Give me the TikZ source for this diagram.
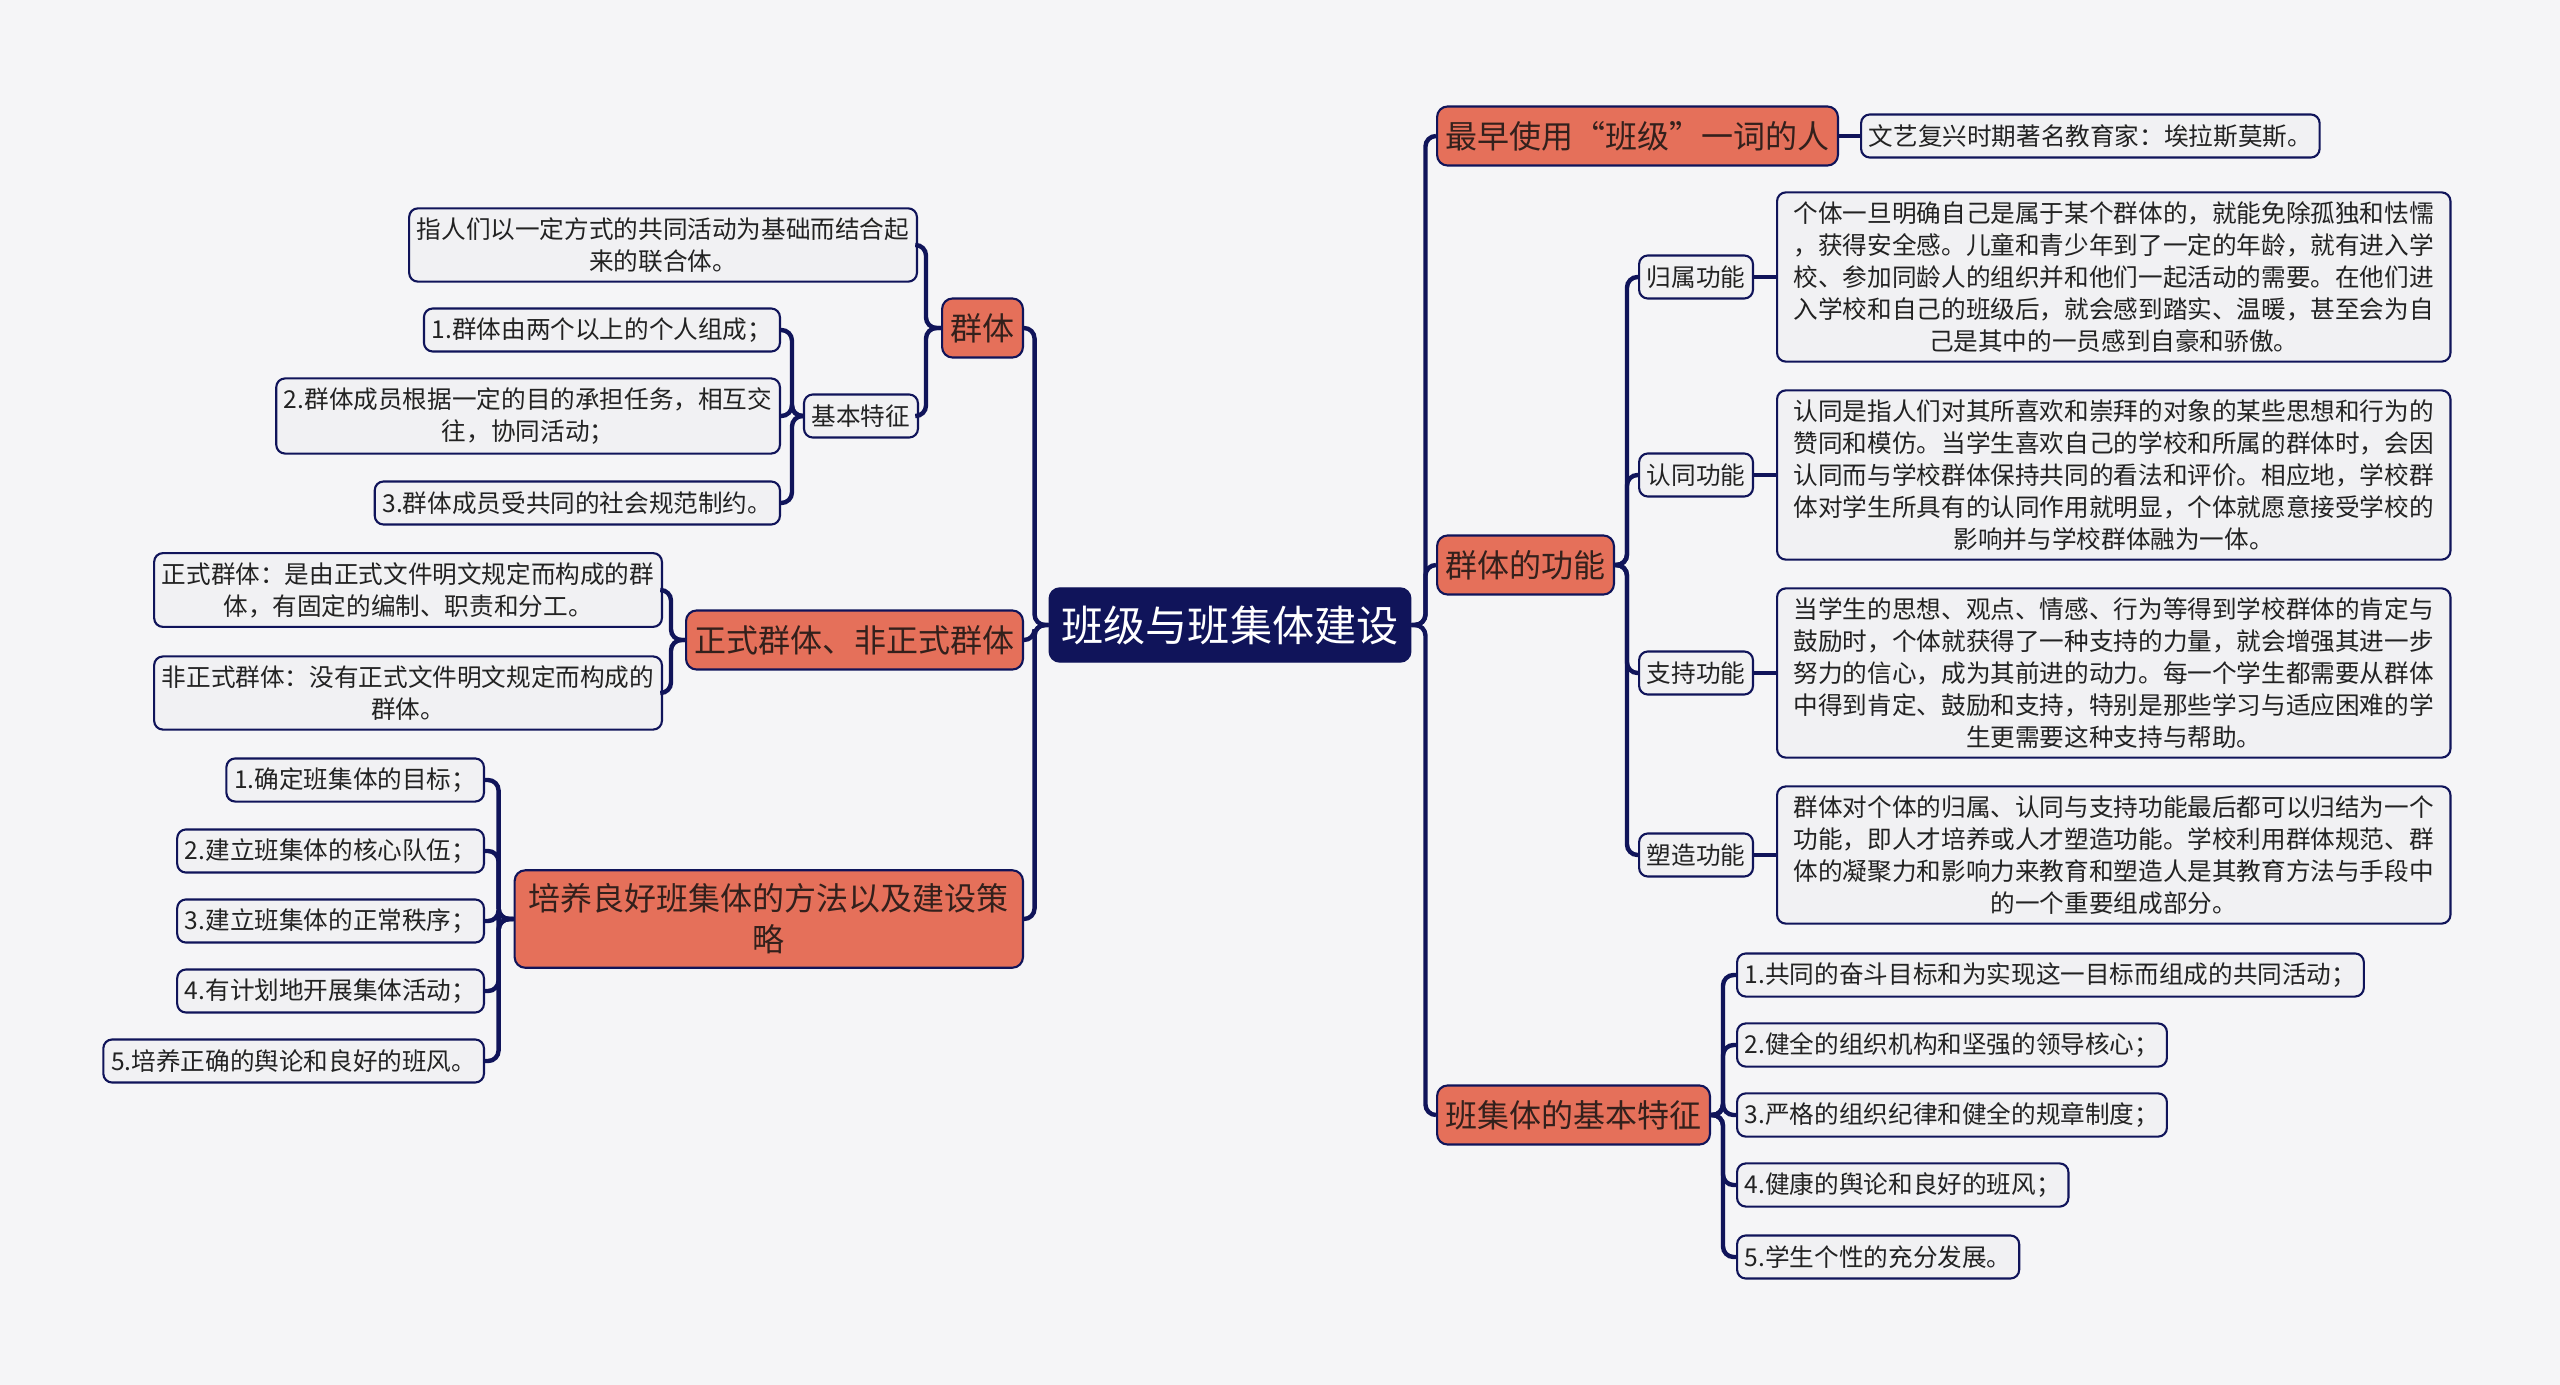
\documentclass[tikz,border=0pt]{standalone}
\usepackage{fontspec}
\setmainfont{Noto Sans CJK SC}
\definecolor{bgc}{HTML}{F5F5F7}
\definecolor{navyc}{HTML}{10145A}
\definecolor{orangec}{HTML}{E5705A}
\definecolor{leafc}{HTML}{F1F1F3}
\definecolor{topictext}{HTML}{33201C}
\definecolor{leaftext}{HTML}{222222}
\tikzset{
  rootnode/.style={draw=navyc, fill=navyc, text=white, rounded corners=3pt,
    font=\fontsize{12pt}{14pt}\selectfont, inner xsep=3.4pt, minimum height=0.74cm},
  topicnode/.style={draw=navyc, line width=0.6pt, fill=orangec, text=topictext,
    rounded corners=3pt, font=\fontsize{9.1pt}{11.7pt}\selectfont, align=center,
    inner xsep=2.4pt, inner ysep=3.8pt, minimum height=0.59cm},
  leafnode/.style={draw=navyc, line width=0.6pt, fill=leafc, text=leaftext,
    rounded corners=2.5pt, font=\fontsize{7pt}{9.1pt}\selectfont, align=center,
    inner xsep=2.2pt, inner ysep=2.6pt, minimum height=0.43cm},
  descnode/.style={leafnode, minimum width=6.73cm},
  linkline/.style={draw=navyc, line width=1.25pt, rounded corners=3pt},
}
\begin{document}
\begin{tikzpicture}[x=0.01cm, y=-0.01cm]
  % background and page size
  \fill[bgc] (0,0) rectangle (2560,1385);
  \useasboundingbox (0,0) rectangle (2560,1385);

  % centre
  \node[rootnode] (root) at (1230,625) {班级与班集体建设};

  % right branches
  \node[topicnode, anchor=west] (early) at (1436,136) {最早使用“班级”一词的人};
  \node[leafnode, anchor=west] (earlyleaf) at (1860,136) {文艺复兴时期著名教育家：埃拉斯莫斯。};

  \node[topicnode, anchor=west] (func) at (1436,565) {群体的功能};
  \node[leafnode, anchor=west] (gui) at (1638,277) {归属功能};
  \node[descnode, anchor=west] (guidesc) at (1776,277) {个体一旦明确自己是属于某个群体的，就能免除孤独和怯懦\\，获得安全感。儿童和青少年到了一定的年龄，就有进入学\\校、参加同龄人的组织并和他们一起活动的需要。在他们进\\入学校和自己的班级后，就会感到踏实、温暖，甚至会为自\\己是其中的一员感到自豪和骄傲。};
  \node[leafnode, anchor=west] (ren) at (1638,475) {认同功能};
  \node[descnode, anchor=west] (rendesc) at (1776,475) {认同是指人们对其所喜欢和崇拜的对象的某些思想和行为的\\赞同和模仿。当学生喜欢自己的学校和所属的群体时，会因\\认同而与学校群体保持共同的看法和评价。相应地，学校群\\体对学生所具有的认同作用就明显，个体就愿意接受学校的\\影响并与学校群体融为一体。};
  \node[leafnode, anchor=west] (zhi) at (1638,673) {支持功能};
  \node[descnode, anchor=west] (zhidesc) at (1776,673) {当学生的思想、观点、情感、行为等得到学校群体的肯定与\\鼓励时，个体就获得了一种支持的力量，就会增强其进一步\\努力的信心，成为其前进的动力。每一个学生都需要从群体\\中得到肯定、鼓励和支持，特别是那些学习与适应困难的学\\生更需要这种支持与帮助。};
  \node[leafnode, anchor=west] (su) at (1638,855) {塑造功能};
  \node[descnode, anchor=west] (sudesc) at (1776,855) {群体对个体的归属、认同与支持功能最后都可以归结为一个\\功能，即人才培养或人才塑造功能。学校利用群体规范、群\\体的凝聚力和影响力来教育和塑造人是其教育方法与手段中\\的一个重要组成部分。};

  \node[topicnode, anchor=west] (feat) at (1436,1115) {班集体的基本特征};
  \node[leafnode, anchor=west] (f1) at (1736,975) {1.共同的奋斗目标和为实现这一目标而组成的共同活动；};
  \node[leafnode, anchor=west] (f2) at (1736,1045) {2.健全的组织机构和坚强的领导核心；};
  \node[leafnode, anchor=west] (f3) at (1736,1115) {3.严格的组织纪律和健全的规章制度；};
  \node[leafnode, anchor=west] (f4) at (1736,1185) {4.健康的舆论和良好的班风；};
  \node[leafnode, anchor=west] (f5) at (1736,1257) {5.学生个性的充分发展。};

  % left branches
  \node[topicnode, anchor=east] (qunti) at (1024,328) {群体};
  \node[leafnode, anchor=east] (qdesc) at (918,245) {指人们以一定方式的共同活动为基础而结合起\\来的联合体。};
  \node[leafnode, anchor=east] (jiben) at (919,416) {基本特征};
  \node[leafnode, anchor=east] (j1) at (781,330) {1.群体由两个以上的个人组成；};
  \node[leafnode, anchor=east] (j2) at (781,416) {2.群体成员根据一定的目的承担任务，相互交\\往，协同活动；};
  \node[leafnode, anchor=east] (j3) at (781,503) {3.群体成员受共同的社会规范制约。};

  \node[topicnode, anchor=east] (zhengshi) at (1024,640) {正式群体、非正式群体};
  \node[leafnode, anchor=east] (z1) at (663,590) {正式群体：是由正式文件明文规定而构成的群\\体，有固定的编制、职责和分工。};
  \node[leafnode, anchor=east] (z2) at (663,693) {非正式群体：没有正式文件明文规定而构成的\\群体。};

  \node[topicnode, anchor=east, minimum width=5.08cm] (peiyang) at (1024,919) {培养良好班集体的方法以及建设策\\略};
  \node[leafnode, anchor=east] (p1) at (485,780) {1.确定班集体的目标；};
  \node[leafnode, anchor=east] (p2) at (485,851) {2.建立班集体的核心队伍；};
  \node[leafnode, anchor=east] (p3) at (485,921) {3.建立班集体的正常秩序；};
  \node[leafnode, anchor=east] (p4) at (485,991) {4.有计划地开展集体活动；};
  \node[leafnode, anchor=east] (p5) at (485,1061) {5.培养正确的舆论和良好的班风。};

  % connectors, right
  \foreach \c in {early,func,feat}
    \draw[linkline] (root.east) -- ++(14,0) |- (\c.west);
  \draw[linkline] (early.east) -- (earlyleaf.west);
  \foreach \c in {gui,ren,zhi,su} {
    \draw[linkline] (func.east) -- ++(12,0) |- (\c.west);
    \draw[linkline] (\c.east) -- (\c desc.west);
  }
  \foreach \c in {f1,f2,f3,f4,f5}
    \draw[linkline] (feat.east) -- ++(12,0) |- (\c.west);

  % connectors, left
  \foreach \c in {qunti,zhengshi,peiyang}
    \draw[linkline] (root.west) -- ++(-14,0) |- (\c.east);
  \foreach \c in {qdesc,jiben}
    \draw[linkline] (qunti.west) -- ++(-15,0) |- (\c.east);
  \foreach \c in {j1,j2,j3}
    \draw[linkline] (jiben.west) -- ++(-11,0) |- (\c.east);
  \foreach \c in {z1,z2}
    \draw[linkline] (zhengshi.west) -- ++(-14,0) |- (\c.east);
  \foreach \c in {p1,p2,p3,p4,p5}
    \draw[linkline] (peiyang.west) -- ++(-15,0) |- (\c.east);
\end{tikzpicture}
\end{document}
